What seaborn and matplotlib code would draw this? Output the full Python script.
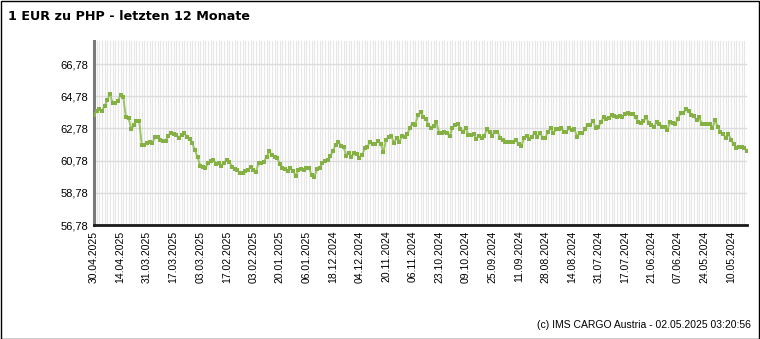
import matplotlib
matplotlib.use("Agg")
import matplotlib.pyplot as plt
from matplotlib.patches import Rectangle
from matplotlib.ticker import FixedLocator, MultipleLocator
import seaborn as sns
import pandas as pd

title = "1 EUR zu PHP - letzten 12 Monate"
footer = "(c) IMS CARGO Austria - 02.05.2025 03:20:56"

# EUR->PHP rates, newest (left) to oldest (right)
rates_apr_mar = [63.63, 63.84, 64.01, 63.88, 64.18, 64.55, 64.93, 64.38, 64.38, 64.51,
                 64.88, 64.76, 63.51, 63.43, 62.76, 62.97, 63.26, 63.26, 61.76, 61.76,
                 61.88, 61.93, 61.88, 62.26, 62.26, 62.09, 62.01, 62.01, 62.34, 62.51,
                 62.43, 62.38, 62.22, 62.38, 62.51, 62.26, 62.13, 61.88, 61.43, 61.01,
                 60.47]
rates_feb_jan = [60.38, 60.34, 60.63, 60.76, 60.84, 60.59, 60.63, 60.47, 60.63, 60.84,
                 60.72, 60.38, 60.26, 60.22, 60.01, 60.01, 60.13, 60.22, 60.38, 60.17,
                 60.09, 60.63, 60.63, 60.72, 61.01, 61.38, 61.13, 61.01, 60.93, 60.59,
                 60.30, 60.26, 60.13, 60.30, 60.13, 59.84, 60.22, 60.26, 60.17, 60.34,
                 60.34, 59.88]
rates_dec_nov = [59.76, 60.26, 60.34, 60.63, 60.76, 60.84, 61.05, 61.38, 61.76, 61.97,
                 61.72, 61.63, 61.09, 61.26, 61.01, 61.26, 61.18, 60.97, 61.13, 61.55,
                 61.63, 61.97, 61.80, 61.80, 62.01, 61.84, 61.30, 62.09, 62.26, 62.34,
                 61.88, 62.18, 61.93, 62.30, 62.26, 62.43, 62.80, 63.09, 63.01, 63.59,
                 63.80]
rates_nov_sep = [63.51, 63.34, 63.01, 62.80, 62.93, 63.18, 62.51, 62.51, 62.59, 62.51,
                 62.30, 62.84, 62.97, 63.09, 62.76, 62.59, 62.80, 62.38, 62.38, 62.43,
                 62.13, 62.34, 62.22, 62.30, 62.72, 62.55, 62.34, 62.59, 62.59, 62.22,
                 62.09, 61.93, 61.93, 61.97, 61.93, 62.05, 61.80, 61.68, 62.18, 62.34,
                 62.13]
rates_sep_jul = [62.26, 62.51, 62.26, 62.51, 62.22, 62.22, 62.55, 62.84, 62.47, 62.72,
                 62.76, 62.84, 62.55, 62.55, 62.84, 62.68, 62.76, 62.26, 62.51, 62.51,
                 62.76, 63.01, 63.01, 63.26, 62.84, 62.88, 63.18, 63.51, 63.38, 63.43,
                 63.59, 63.55, 63.51, 63.55, 63.51, 63.68, 63.72, 63.68, 63.68, 63.47,
                 63.18]
rates_jul_may = [63.13, 63.22, 63.47, 63.13, 63.01, 62.88, 63.18, 63.09, 62.88, 62.88,
                 62.68, 63.18, 63.13, 63.05, 63.38, 63.76, 63.72, 63.97, 63.84, 63.63,
                 63.55, 63.30, 63.47, 63.09, 63.05, 63.05, 63.05, 62.80, 63.30, 62.88,
                 62.55, 62.43, 62.22, 62.43, 62.09, 61.80, 61.59, 61.63, 61.63, 61.59,
                 61.38]

date_labels = ["30.04.2025", "14.04.2025", "31.03.2025", "17.03.2025", "03.03.2025",
               "17.02.2025", "03.02.2025", "20.01.2025", "06.01.2025", "18.12.2024",
               "04.12.2024", "20.11.2024", "06.11.2024", "23.10.2024", "09.10.2024",
               "25.09.2024", "11.09.2024", "28.08.2024", "14.08.2024", "31.07.2024",
               "17.07.2024", "21.06.2024", "07.06.2024", "24.05.2024", "10.05.2024"]
label_step = 10

y_ticks = [56.78, 58.78, 60.78, 62.78, 64.78, 66.78]
y_tick_labels = ["56,78", "58,78", "60,78", "62,78", "64,78", "66,78"]

rates = (rates_apr_mar + rates_feb_jan + rates_dec_nov + rates_nov_sep
         + rates_sep_jul + rates_jul_may)
df = pd.DataFrame({"idx": range(len(rates)), "rate": rates})

sns.set_style("white")
plt.rcParams["font.family"] = ["Liberation Sans", "DejaVu Sans"]
plt.rcParams["text.color"] = "black"
plt.rcParams["xtick.color"] = "black"
plt.rcParams["ytick.color"] = "black"

W, H = 760, 339
fig = plt.figure(figsize=(W / 100, H / 100), dpi=100)
ax = fig.add_axes([94 / W, 1 - 225 / H, (747 - 94) / W, (225 - 41) / H])

sns.lineplot(data=df, x="idx", y="rate", ax=ax, color="#9cc462", lw=1.4,
             marker="s", markersize=2.4, markeredgewidth=0,
             markerfacecolor="#84b044", zorder=3)

ax.set_xlim(0, len(rates) - 1)
ax.set_ylim(56.78, 68.22)

ax.xaxis.set_major_locator(FixedLocator([i * label_step for i in range(len(date_labels))]))
ax.set_xticklabels(date_labels, rotation=90, fontsize=7.5)
ax.xaxis.set_minor_locator(MultipleLocator(1))
ax.set_yticks(y_ticks)
ax.set_yticklabels(y_tick_labels, fontsize=8)
ax.set_xlabel("")
ax.set_ylabel("")

ax.grid(which="minor", axis="x", color="#e6e6e6", lw=0.8, zorder=0)
ax.grid(which="major", axis="x", color="#e6e6e6", lw=0.8, zorder=0)
ax.grid(which="major", axis="y", color="#dcdcdc", lw=1.0, zorder=0)
ax.tick_params(axis="both", which="both", length=0)
ax.tick_params(axis="x", pad=4)
ax.tick_params(axis="y", pad=4)

for s in ["top", "right"]:
    ax.spines[s].set_visible(False)
ax.spines["left"].set_color("#7a7a7a")
ax.spines["left"].set_linewidth(2.2)
ax.spines["bottom"].set_color("#1a1a1a")
ax.spines["bottom"].set_linewidth(2.0)

fig.text(8 / W, 1 - 17 / H, title, fontsize=9.2, fontweight="bold",
         family=["DejaVu Sans"], va="center", ha="left", color="black")
fig.text(751 / W, 1 - 325 / H, footer, fontsize=7.5, va="center", ha="right",
         color="black")

fig.patches.append(Rectangle((0.5 / W, 0.5 / H), 1 - 1.5 / W, 1 - 1.5 / H,
                             transform=fig.transFigure, fill=False,
                             edgecolor="black", lw=1.0))

fig.savefig("out.png", dpi=100)
